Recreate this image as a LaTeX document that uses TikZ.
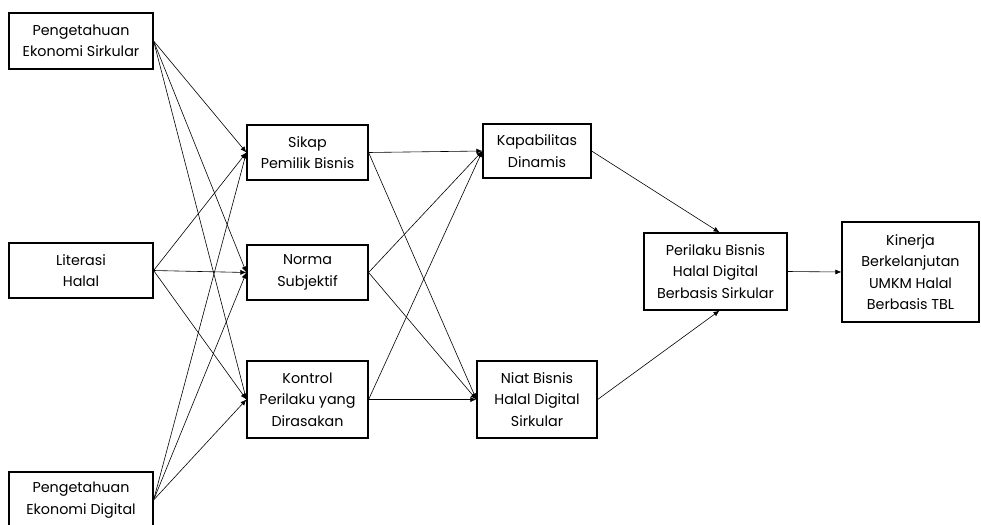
\documentclass[tikz,border=0pt]{standalone}
\usepackage{fontspec}
\setmainfont{Poppins}
\usetikzlibrary{arrows.meta}
\begin{document}
\begin{tikzpicture}[x=1pt,y=-1pt,
  box/.style={draw,line width=1.2pt,align=center,inner sep=0pt,
    font=\fontsize{14.3}{21.3}\selectfont},
  conn/.style={line width=0.6pt,-{Latex[length=6pt,width=5pt]}}]
\useasboundingbox (0,0) rectangle (981,524);
\node[box,minimum width=144pt,minimum height=56pt] (A) at (81,41) {Pengetahuan\\Ekonomi Sirkular};
\node[box,minimum width=144pt,minimum height=55pt] (B) at (81,270.5) {Literasi\\Halal};
\node[box,minimum width=144pt,minimum height=56pt] (C) at (81,500) {Pengetahuan\\Ekonomi Digital};
\node[box,minimum width=121pt,minimum height=55pt] (S) at (307.5,152.5) {Sikap\\Pemilik Bisnis};
\node[box,minimum width=121pt,minimum height=55pt] (N) at (307.5,272.5) {Norma\\Subjektif};
\node[box,minimum width=121pt,minimum height=77pt] (K) at (307.5,399.5) {Kontrol\\Perilaku yang\\Dirasakan};
\node[box,minimum width=108pt,minimum height=54pt] (D) at (537,151) {Kapabilitas\\Dinamis};
\node[box,minimum width=120pt,minimum height=77pt] (I) at (537,399.5) {Niat Bisnis\\Halal Digital\\Sirkular};
\node[box,minimum width=143pt,minimum height=77pt] (P) at (715.5,271.5) {Perilaku Bisnis\\Halal Digital\\Berbasis Sirkular};
\node[box,minimum width=137pt,minimum height=100pt] (T) at (910.5,272) {Kinerja\\Berkelanjutan\\UMKM Halal\\Berbasis TBL};
\foreach \s in {A,B,C}{
  \foreach \t in {S,N,K}{
    \draw[conn] (\s.east) -- (\t.west);
  }
}
\foreach \s in {S,N,K}{
  \foreach \t in {D,I}{
    \draw[conn] (\s.east) -- (\t.west);
  }
}
\draw[conn] (D.east) -- ([xshift=4pt]P.north);
\draw[conn] (I.east) -- ([xshift=4pt]P.south);
\draw[conn] (P.east) -- (T.west);
\end{tikzpicture}
\end{document}
